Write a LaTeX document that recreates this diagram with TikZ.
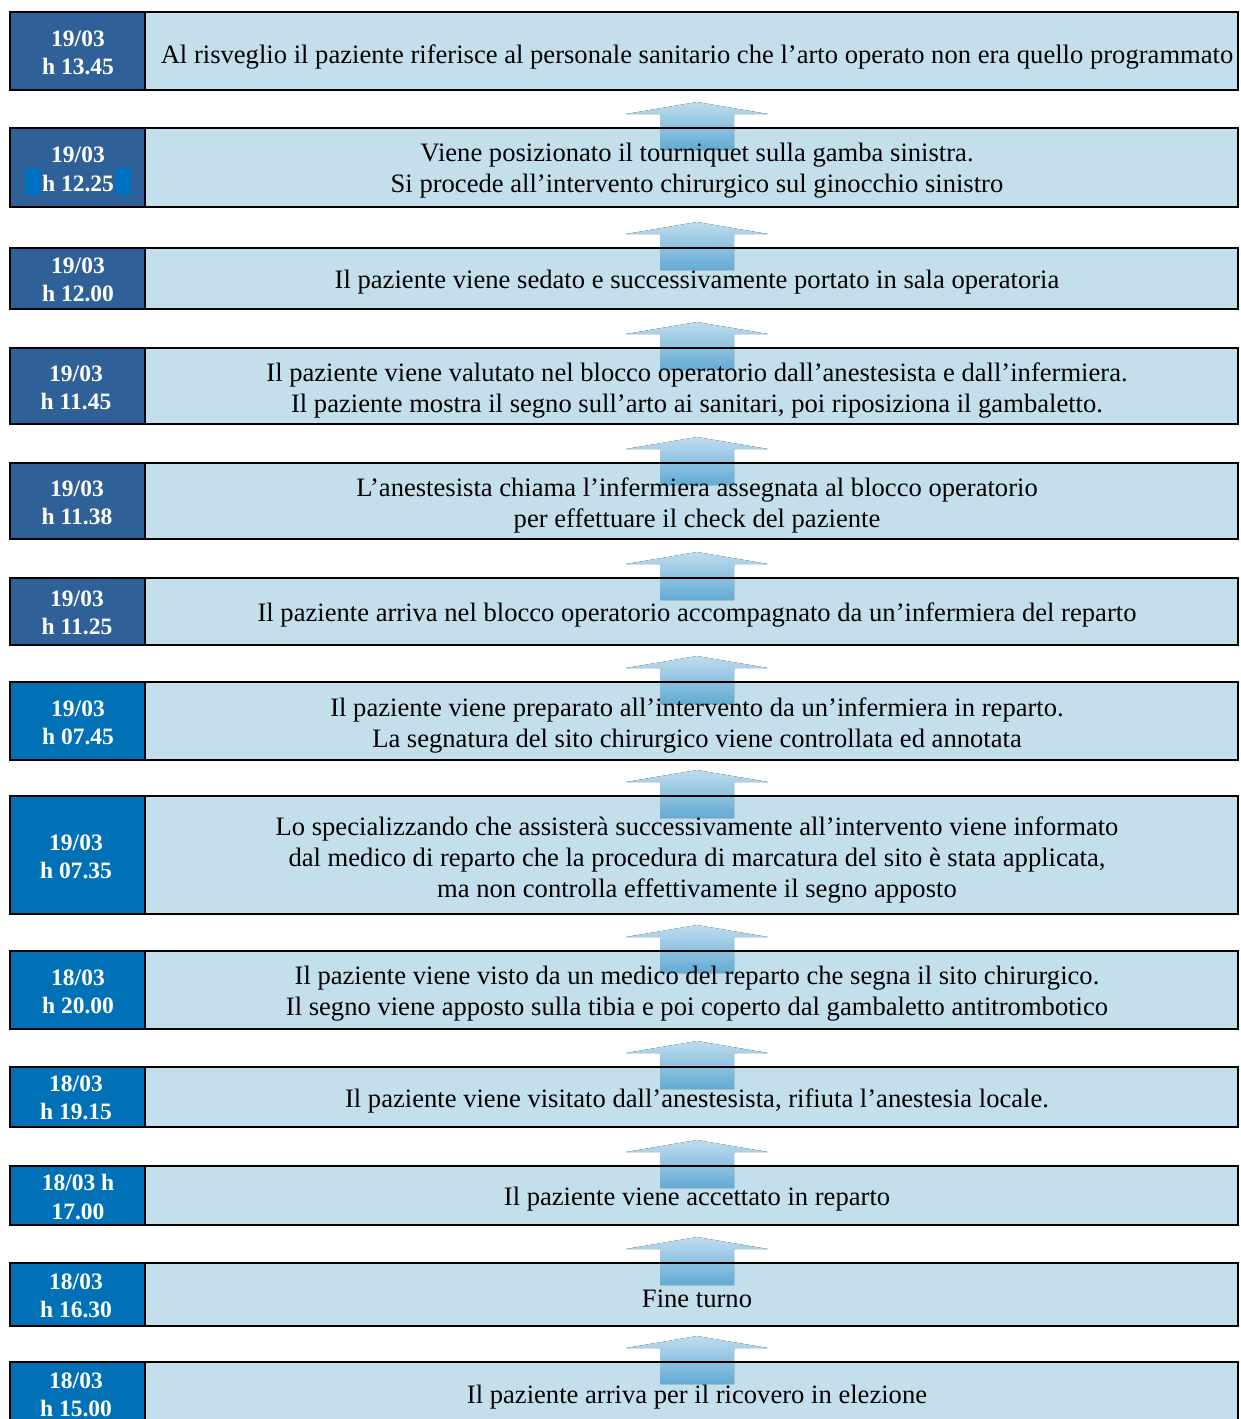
\documentclass[tikz,border=0pt]{standalone}
\usepackage{fontspec}
\setmainfont{Liberation Serif}
\definecolor{dateA}{HTML}{2F6198}
\definecolor{dateB}{HTML}{0071B6}
\definecolor{hilite}{HTML}{0070C0}
\definecolor{cell}{HTML}{C4DFEC}
\definecolor{arrowtop}{HTML}{BEDCEE}
\definecolor{arrowbot}{HTML}{62AAD4}
\begin{document}
\begin{tikzpicture}[x=1pt,y=-1pt,
  body/.style={font=\fontsize{26.6}{31}\selectfont, align=center, inner sep=0pt, text=black},
  stamp/.style={font=\fontsize{23.5}{28.5}\selectfont\bfseries, align=center, inner sep=0pt, text=white},
  frame/.style={draw=black, line width=1.8pt},
  uparrow/.style={top color=arrowtop, bottom color=arrowbot, draw=none}]
\useasboundingbox (0,0) rectangle (1240,1419);

% row backgrounds: date cell + description cell
\foreach \i/\t/\b/\c in {1/12/90/dateA, 2/128/207/dateA, 3/248/309/dateA,
    4/348/424/dateA, 5/463/539/dateA, 6/578/645/dateA, 7/682/760/dateB,
    8/796/914/dateB, 9/951/1029/dateB, 10/1067/1127/dateB, 11/1166/1225/dateB,
    12/1263/1326/dateB, 13/1362/1440/dateB}{
  \fill[\c] (10,\t) rectangle (145,\b);
  \fill[cell] (145,\t) rectangle (1238,\b);
  \coordinate (top\i) at (697,\t);
}

% highlight behind the 12.25 time stamp
\fill[hilite] (25,168) rectangle (41,195);
\fill[hilite] (115,168) rectangle (131,195);

% block arrows pointing upwards between consecutive rows
\foreach \i in {2,...,13}{
  \fill[uparrow] (top\i) ++(-37,22) -- ++(0,-36) -- ++(-34,0) -- ++(71,-12)
    -- ++(71,12) -- ++(-34,0) -- ++(0,36) -- cycle;
}

% row frames
\foreach \t/\b in {12/90, 128/207, 248/309, 348/424, 463/539, 578/645,
    682/760, 796/914, 951/1029, 1067/1127, 1166/1225, 1263/1326, 1362/1440}{
  \draw[frame] (10,\t) rectangle (1238,\b);
  \draw[frame] (145,\t) -- (145,\b);
}

% time stamps
\node[stamp] (d1) at (78,53) {19/03\\h 13.45};
\node[stamp] (d2) at (78,169.5) {19/03\\h 12.25};
\node[stamp] (d3) at (78,280) {19/03\\h 12.00};
\node[stamp] (d4) at (76,388) {19/03\\h 11.45};
\node[stamp] (d5) at (77,503) {19/03\\h 11.38};
\node[stamp] (d6) at (77,613) {19/03\\h 11.25};
\node[stamp] (d7) at (78,723) {19/03\\h 07.45};
\node[stamp] (d8) at (76,857) {19/03\\h 07.35};
\node[stamp] (d9) at (78,992) {18/03\\h 20.00};
\node[stamp] (d10) at (76,1098) {18/03\\h 19.15};
\node[stamp] (d11) at (78,1197) {18/03 h\\17.00};
\node[stamp] (d12) at (76,1296) {18/03\\h 16.30};
\node[stamp] (d13) at (76,1395) {18/03\\h 15.00};

% event descriptions
\node[body] (t1) at (697,57.5) {Al risveglio il paziente riferisce al personale sanitario che l’arto operato non era quello programmato};
\node[body] (t2) at (697,171) {Viene posizionato il tourniquet sulla gamba sinistra.\\Si procede all’intervento chirurgico sul ginocchio sinistro};
\node[body] (t3) at (697,282.5) {Il paziente viene sedato e successivamente portato in sala operatoria};
\node[body] (t4) at (697,390.5) {Il paziente viene valutato nel blocco operatorio dall’anestesista e dall’infermiera.\\Il paziente mostra il segno sull’arto ai sanitari, poi riposiziona il gambaletto.};
\node[body] (t5) at (697,505) {L’anestesista chiama l’infermiera assegnata al blocco operatorio\\per effettuare il check del paziente};
\node[body] (t6) at (697,614.5) {Il paziente arriva nel blocco operatorio accompagnato da un’infermiera del reparto};
\node[body] (t7) at (697,725) {Il paziente viene preparato all’intervento da un’infermiera in reparto.\\La segnatura del sito chirurgico viene controllata ed annotata};
\node[body] (t8) at (697,859.5) {Lo specializzando che assisterà successivamente all’intervento viene informato\\dal medico di reparto che la procedura di marcatura del sito è stata applicata,\\ma non controlla effettivamente il segno apposto};
\node[body] (t9) at (697,994) {Il paziente viene visto da un medico del reparto che segna il sito chirurgico.\\Il segno viene apposto sulla tibia e poi coperto dal gambaletto antitrombotico};
\node[body] (t10) at (697,1100.5) {Il paziente viene visitato dall’anestesista, rifiuta l’anestesia locale.};
\node[body] (t11) at (697,1199.5) {Il paziente viene accettato in reparto};
\node[body] (t12) at (697,1298.5) {Fine turno};
\node[body] (t13) at (697,1397.5) {Il paziente arriva per il ricovero in elezione};
\end{tikzpicture}
\end{document}
